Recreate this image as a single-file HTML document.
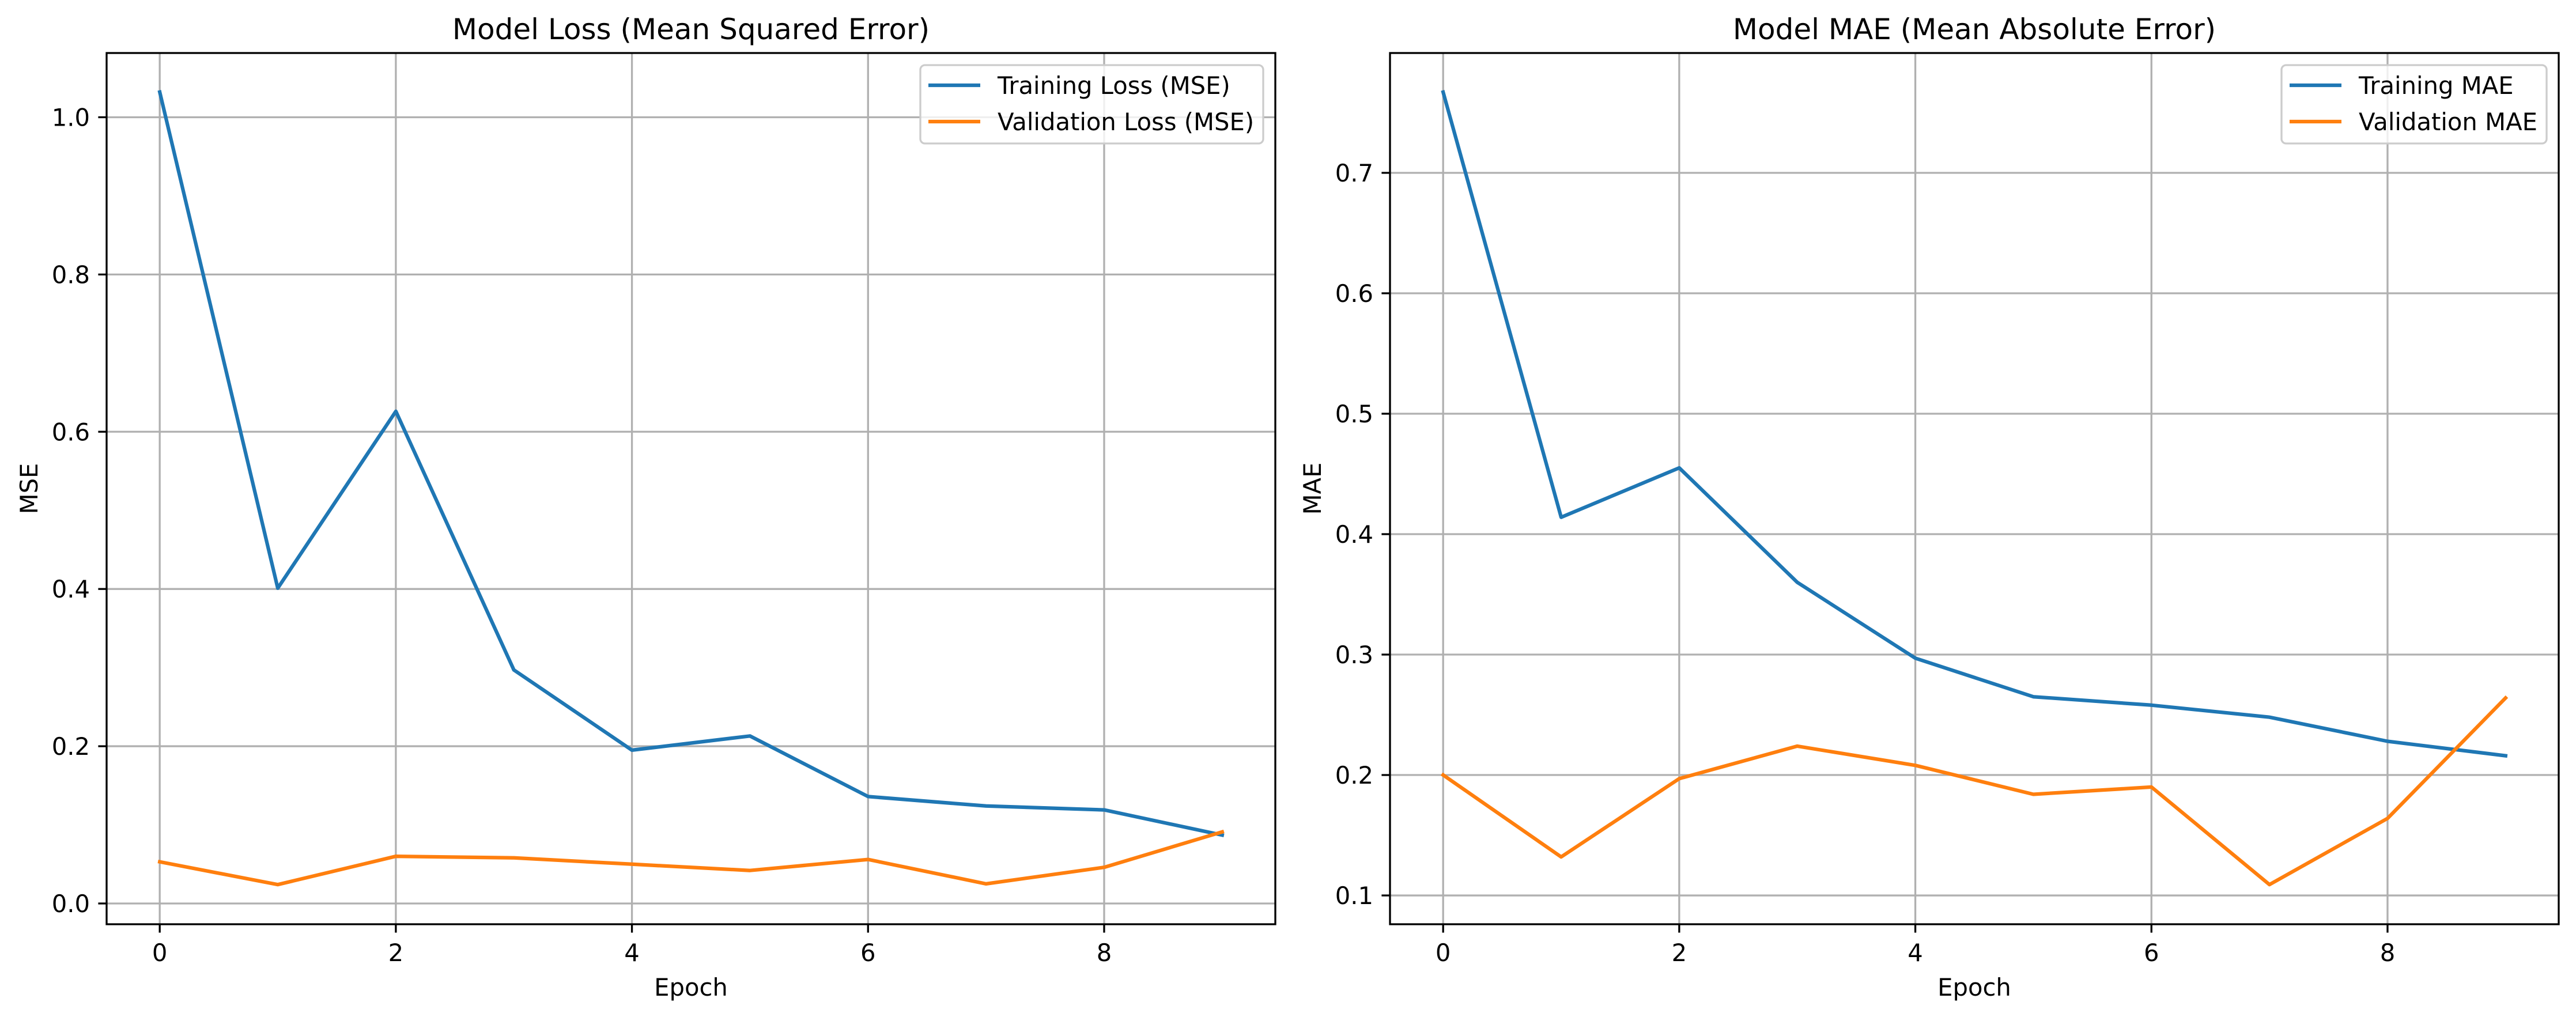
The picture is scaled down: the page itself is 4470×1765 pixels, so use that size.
<!DOCTYPE html>
<html><head><meta charset="utf-8">
<style>
html,body{margin:0;padding:0;background:#fff;}
svg{display:block;font-family:"DejaVu Sans","Liberation Sans",sans-serif;}
</style></head>
<body>
<svg id="fig" width="4470" height="1765" viewBox="0 0 4470 1765" xmlns="http://www.w3.org/2000/svg">
<rect width="4470" height="1765" fill="#fff"/>
</svg>
<script>
const epochs = [0,1,2,3,4,5,6,7,8,9];
const xTicks = [0,2,4,6,8];
const lossTrain = [1.032,0.401,0.626,0.297,0.195,0.213,0.136,0.124,0.119,0.087];
const lossVal = [0.053,0.024,0.060,0.058,0.050,0.042,0.056,0.025,0.046,0.091];
const lossTicks = [0.0,0.2,0.4,0.6,0.8,1.0];
const lossTickLabels = ["0.0","0.2","0.4","0.6","0.8","1.0"];
const maeTrain = [0.767,0.414,0.455,0.360,0.297,0.265,0.258,0.248,0.228,0.216];
const maeVal = [0.200,0.132,0.197,0.224,0.208,0.184,0.190,0.109,0.164,0.264];
const maeTicks = [0.1,0.2,0.3,0.4,0.5,0.6,0.7];
const maeTickLabels = ["0.1","0.2","0.3","0.4","0.5","0.6","0.7"];

const NS = "http://www.w3.org/2000/svg";
const fig = document.getElementById('fig');
function mk(tag, attrs, parent){
  const e = document.createElementNS(NS, tag);
  for (const k in attrs) e.setAttribute(k, attrs[k]);
  parent.appendChild(e);
  return e;
}
function panel(cfg){
  const g = mk('g', {}, fig);
  
  
  const L=cfg.left, R=cfg.left+2028, T=92, B=1604;
  const xmin=-0.45, xmax=9.45;
  const sx = v => L + (v - xmin) / (xmax - xmin) * (R - L);
  const sy = v => B - (v - cfg.ymin) / (cfg.ymax - cfg.ymin) * (B - T);
  // grid
  xTicks.forEach(t => {
    const l = mk('line', {x1:sx(t), x2:sx(t), y1:T, y2:B, stroke:'#b0b0b0', 'stroke-width':3.3}, g);
    
    
  });
  cfg.ticks.forEach(t => {
    const l = mk('line', {x1:L, x2:R, y1:sy(t), y2:sy(t), stroke:'#b0b0b0', 'stroke-width':3.3}, g);
    
    
  });
  // series
  const series = [[cfg.train,'#1f77b4','training-line'],[cfg.val,'#ff7f0e','validation-line']];
  series.forEach(s => {
    const pts = epochs.map((e,i) => sx(e).toFixed(1)+','+sy(s[0][i]).toFixed(1)).join(' ');
    const p = mk('polyline', {points:pts, fill:'none', stroke:s[1], 'stroke-width':6.25, 'stroke-linejoin':'round', 'stroke-linecap':'square'}, g);
    
    
  });
  // frame
  const fr = mk('rect', {x:L, y:T, width:R-L, height:B-T, fill:'none', stroke:'#000', 'stroke-width':3.3}, g);
  
  
  // x ticks
  xTicks.forEach(t => {
    mk('line', {x1:sx(t), x2:sx(t), y1:B, y2:B+14.6, stroke:'#000', 'stroke-width':3.3}, g);
    const tx = mk('text', {x:sx(t), y:1668, 'font-size':41.7, 'text-anchor':'middle', fill:'#000'}, g);
    tx.textContent = String(t);
    
    
  });
  // y ticks
  cfg.ticks.forEach((t,i) => {
    mk('line', {x1:L-14.6, x2:L, y1:sy(t), y2:sy(t), stroke:'#000', 'stroke-width':3.3}, g);
    const tx = mk('text', {x:L-29, y:sy(t)+15, 'font-size':41.7, 'text-anchor':'end', fill:'#000'}, g);
    tx.textContent = cfg.tickLabels[i];
    
    
  });
  // title
  const ti = mk('text', {x:(L+R)/2, y:68, 'font-size':50, 'text-anchor':'middle', fill:'#000'}, g);
  ti.textContent = cfg.title;
  
  
  const xl = mk('text', {x:(L+R)/2, y:1728, 'font-size':41.7, 'text-anchor':'middle', fill:'#000'}, g);
  xl.textContent = 'Epoch';
  
  
  const yc = (T+B)/2, yx = L-135+15;
  const yl = mk('text', {x:yx, y:yc, 'font-size':41.7, 'text-anchor':'middle', fill:'#000', transform:'rotate(-90 '+yx+' '+yc+')'}, g);
  yl.textContent = cfg.ylabel;
  
  
  // legend
  const lg = mk('g', {}, g);
  
  
  mk('rect', {x:cfg.legX, y:113, width:R-21-cfg.legX, height:136, rx:8, fill:'#fff', 'fill-opacity':0.8, stroke:'#cccccc', 'stroke-width':3.3}, lg);
  const hx = cfg.legX + 14;
  [[148,'#1f77b4',cfg.labels[0]],[211,'#ff7f0e',cfg.labels[1]]].forEach(e => {
    const en = mk('g', {}, lg);
    
    
    mk('line', {x1:hx, x2:hx+90, y1:e[0], y2:e[0], stroke:e[1], 'stroke-width':6.25}, en);
    const t = mk('text', {x:hx+120, y:e[0]+15, 'font-size':41.7, fill:'#000'}, en);
    t.textContent = e[2];
  });
}
panel({name:'mse-loss-chart', left:185, ymin:-0.0264, ymax:1.0817, train:lossTrain, val:lossVal,
  ticks:lossTicks, tickLabels:lossTickLabels, title:'Model Loss (Mean Squared Error)', ylabel:'MSE',
  legX:1597, labels:['Training Loss (MSE)','Validation Loss (MSE)']});
panel({name:'mae-chart', left:2412, ymin:0.0761, ymax:0.7995, train:maeTrain, val:maeVal,
  ticks:maeTicks, tickLabels:maeTickLabels, title:'Model MAE (Mean Absolute Error)', ylabel:'MAE',
  legX:3959, labels:['Training MAE','Validation MAE']});
</script>
</body></html>
